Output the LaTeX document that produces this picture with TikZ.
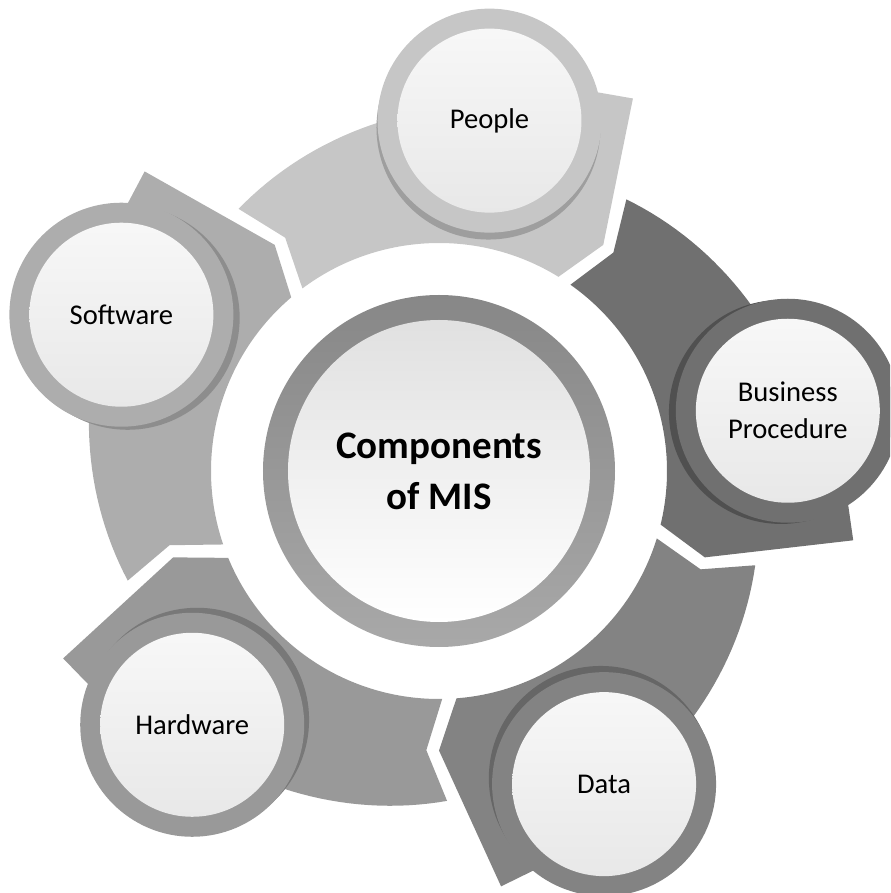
\documentclass[tikz,border=0pt]{standalone}
\usepackage{fontspec}
\setmainfont{Carlito}
\usepackage{tikz}
\usetikzlibrary{calc}

\definecolor{pplgray}{HTML}{C6C6C6}
\definecolor{pplshd}{HTML}{9E9E9E}
\definecolor{busgray}{HTML}{707070}
\definecolor{busshd}{HTML}{505050}
\definecolor{datgray}{HTML}{838383}
\definecolor{datshd}{HTML}{666666}
\definecolor{hwgray}{HTML}{999999}
\definecolor{hwshd}{HTML}{787878}
\definecolor{swgray}{HTML}{ADADAD}
\definecolor{swshd}{HTML}{8D8D8D}

\begin{document}
\begin{tikzpicture}[x=0.5pt,y=0.5pt,
    disc/.style={circle,minimum size=92pt,inner sep=0pt,align=center,
      top color=white!97!black,bottom color=white!91!black,
      font=\fontsize{14.3}{18.5}\selectfont},
    hub/.style={circle,minimum size=151pt,inner sep=0pt,align=center,
      top color=white!88!black,bottom color=white,
      font=\fontsize{19.5}{25.5}\selectfont\bfseries}]
  \path[use as bounding box] (-439,-422) rectangle (451,471);
  \clip (-439,-422) rectangle (451,471);

  \foreach \t/\c in {54/pplgray,-18/busgray,-90/datgray,-162/hwgray,-234/swgray}{
    \pgfmathsetmacro\ta{\t+34}
    \pgfmathsetmacro\tb{\t+73.4}
    \fill[\c] (\t+73.4:330) -- (\t+69.4:279.5) -- (\t+72.8:228)
      arc[start angle=\t+72.8, end angle=\t+4.4, radius=228]
      -- (\t:279.5) -- (\t+8.5:420) -- (\t+13:411) -- (\t+24:398)
      -- plot[domain=\ta:\tb, samples=25] (\x:{330+0.86*(\tb-\x)}) -- cycle;
  }

  \foreach \a/\c/\s/\n/\txt in {81.8/pplgray/pplshd/people/People,
      9.8/busgray/busshd/busproc/{Business\\Procedure},
      -62.2/datgray/datshd/data/Data,
      -134.2/hwgray/hwshd/hardware/Hardware,
      -206.2/swgray/swshd/software/Software}{
    \fill[\s] (\a:347) circle[radius=112];
    \fill[\c] (\a:354) circle[radius=112];
    \node[disc] (\n) at (\a:354) {\txt};
  }

  \shade[top color=black!47,bottom color=black!34] (0,0) circle[radius=176];
  \node[hub] (mis) at (0,0) {Components\\of MIS};
\end{tikzpicture}
\end{document}
